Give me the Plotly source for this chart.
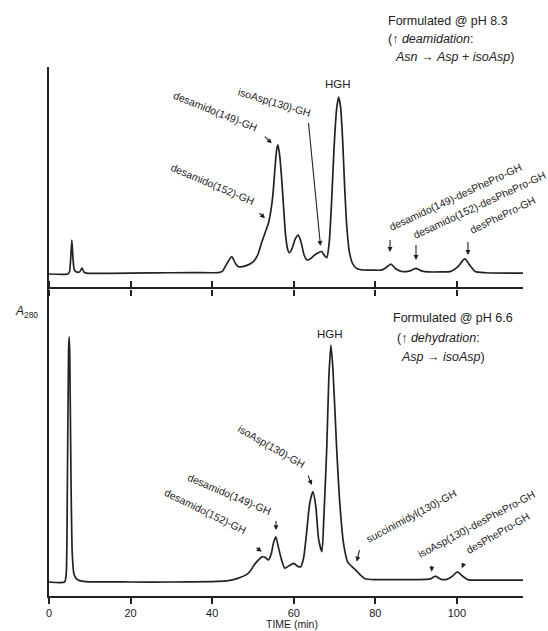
import plotly.graph_objects as go

# ---------------- data ----------------
# Top chromatogram: formulated at pH 8.3 (relative A280, HGH peak = 1)
top_time = [0, 4.6, 5.0, 5.3, 5.6, 5.9, 6.2, 6.7, 7.5, 8.1, 8.6, 9.5, 15, 25, 35, 41.5,
            42.5, 43.4, 44.8, 45.7, 46.5, 48.2, 50.1, 51.2, 52.1, 53.0, 53.8, 54.4,
            54.9, 55.4, 55.8, 56.1, 56.5, 57.0, 57.5, 58.0, 58.5, 58.9, 59.6, 60.4,
            61.1, 61.8, 62.5, 63.2, 64.0, 65.0, 66.0, 66.8, 67.5, 68.1, 68.7, 69.3,
            69.9, 70.5, 71.0, 71.5, 72.0, 72.5, 73.0, 73.6, 74.3, 75.2, 76.5, 79,
            81.5, 82.6, 83.8, 85.0, 86.5, 88.5, 90.0, 91.5, 93, 96, 98.5, 100.2,
            101.9, 103.3, 104.5, 107, 116.2]
top_abs = [0.0, 0.0, 0.01, 0.08, 0.192, 0.08, 0.025, 0.012, 0.012, 0.034, 0.01, 0.004,
           0.004, 0.006, 0.008, 0.008, 0.015, 0.05, 0.098, 0.06, 0.041, 0.046, 0.07,
           0.11, 0.175, 0.235, 0.288, 0.36, 0.45, 0.6, 0.7, 0.73, 0.68, 0.55, 0.38,
           0.22, 0.14, 0.12, 0.145, 0.2, 0.22, 0.18, 0.11, 0.08, 0.085, 0.105, 0.12,
           0.127, 0.105, 0.092, 0.18, 0.42, 0.72, 0.93, 1.0, 0.94, 0.75, 0.48, 0.27,
           0.13, 0.065, 0.035, 0.024, 0.022, 0.022, 0.035, 0.056, 0.03, 0.014, 0.018,
           0.032, 0.016, 0.012, 0.012, 0.015, 0.04, 0.085, 0.045, 0.014, 0.007, 0.005]

# Bottom chromatogram: formulated at pH 6.6 (relative A280, HGH peak = 1)
bot_time = [0, 3.8, 4.2, 4.5, 4.8, 4.95, 5.1, 5.4, 5.7, 6.1, 6.7, 7.5, 9, 20, 30, 40,
            43.5, 45.2, 47, 48.5, 49.5, 50.3, 51.3, 52.2, 53.0, 53.8, 54.5, 55.0,
            55.6, 56.2, 56.9, 57.8, 58.8, 60.0, 61.0, 61.7, 62.4, 63.1, 63.9, 64.7,
            65.4, 66.1, 66.9, 67.4, 68.1, 68.6, 69.1, 69.6, 70.5, 71.3, 72.2, 73.2,
            74.2, 75.2, 76.3, 77.5, 80, 85, 90, 93.5, 94.7, 96, 97.5, 99, 100.1,
            101.3, 102.8, 106, 116.2]
bot_abs = [0.0, 0.0, 0.03, 0.4, 0.98, 1.034, 0.95, 0.42, 0.12, 0.035, 0.014, 0.006,
           0.002, 0.0, 0.0, 0.002, 0.005, 0.01, 0.02, 0.032, 0.05, 0.072, 0.092, 0.106,
           0.104, 0.093, 0.12, 0.163, 0.191, 0.15, 0.1, 0.058, 0.068, 0.079, 0.066,
           0.064, 0.1, 0.2, 0.33, 0.381, 0.32, 0.18, 0.128, 0.28, 0.57, 0.86, 1.0,
           0.9, 0.57, 0.33, 0.163, 0.085, 0.066, 0.05, 0.03, 0.014, 0.01, 0.01, 0.01,
           0.013, 0.025, 0.012, 0.011, 0.026, 0.043, 0.026, 0.009, 0.008, 0.008]

tick_vals = [0, 20, 40, 60, 80, 100]
tick_text = ["0", "20", "40", "60", "80", "100"]

# ---------------- layout geometry ----------------
W, H = 548, 631
ML, MR, MT, MB = 49, 25, 67, 35
PW, PH = W - ML - MR, H - MT - MB
SPLIT = (596 - 289) / PH

def px(xp):
    return (xp - ML) / PW

def py(yp):
    return (H - MB - yp) / PH

INK = "#222222"
FONT = "Liberation Sans, Arial, sans-serif"

fig = go.Figure()
fig.add_trace(go.Scatter(x=top_time, y=top_abs, mode="lines", xaxis="x", yaxis="y",
                         line=dict(color=INK, width=1.7, shape="spline", smoothing=0.6),
                         showlegend=False, hoverinfo="skip"))
fig.add_trace(go.Scatter(x=bot_time, y=bot_abs, mode="lines", xaxis="x2", yaxis="y2",
                         line=dict(color=INK, width=1.7, shape="spline", smoothing=0.6),
                         showlegend=False, hoverinfo="skip"))

axis_common = dict(range=[0, 116.2], showgrid=False, zeroline=False,
                   linecolor=INK, linewidth=2, ticks="outside", ticklen=6, tickwidth=1.5,
                   tickcolor=INK, tickvals=tick_vals, ticktext=tick_text)

fig.update_layout(
    width=W, height=H,
    margin=dict(l=ML, r=MR, t=MT, b=MB),
    paper_bgcolor="white", plot_bgcolor="white",
    font=dict(family=FONT, color=INK, size=11),
    # top panel x axis: only downward ticks, the line comes from the mirrored bottom axis
    xaxis=dict(anchor="y", showticklabels=False, showline=False, **axis_common),
    xaxis2=dict(anchor="y2", matches="x", showticklabels=True, showline=True,
                mirror="ticks", tickfont=dict(size=11, color=INK), **axis_common),
    yaxis=dict(domain=[SPLIT, 1], range=[-15 / 177, 207 / 177], showgrid=False,
               zeroline=False, showline=True, linecolor=INK, linewidth=1.6,
               showticklabels=False, ticks=""),
    yaxis2=dict(domain=[0, SPLIT], range=[-14 / 237, 293 / 237], showgrid=False,
                zeroline=False, showline=True, linecolor=INK, linewidth=1.6,
                showticklabels=False, ticks=""),
)

ann = []

# rotated peak labels (text, x px, y px, angle, size)
labels = [
    ("desamido(149)-GH", 215, 110.5, 22, 10.5),
    ("isoAsp(130)-GH", 274, 101.7, 17, 10.5),
    ("desamido(152)-GH", 212.5, 184, 23, 10.5),
    ("desamido(149)-desPhePro-GH", 455, 197, -25, 10.5),
    ("desamido(152)-desPhePro-GH", 479, 205, -25, 10.5),
    ("desPhePro-GH", 502, 215, -26, 10.5),
    ("desamido(152)-GH", 205.3, 510.5, 26, 10.5),
    ("desamido(149)-GH", 229.5, 493.5, 23, 10.5),
    ("isoAsp(130)-GH", 271, 446, 30, 10.5),
    ("succinimidyl(130)-GH", 410.8, 515.8, -28, 10.5),
    ("isoAsp(130)-desPhePro-GH", 476, 524, -28, 10.5),
    ("desPhePro-GH", 497.5, 532.5, -30, 10.5),
]
for txt, x, y, ang, sz in labels:
    ann.append(dict(text=txt, x=px(x), y=py(y), xref="paper", yref="paper",
                    textangle=ang, showarrow=False, xanchor="center", yanchor="middle",
                    font=dict(size=sz, color=INK, family=FONT)))

for x, y in [(338, 84), (330, 334)]:
    ann.append(dict(text="HGH", x=px(x), y=py(y), xref="paper", yref="paper",
                    showarrow=False, xanchor="center", yanchor="middle",
                    font=dict(size=11.5, color=INK, family=FONT)))

# arrows: (xref, yref, tip time, tip value, ax, ay)
arrows = [
    ("x", "y", 54.6, 0.738, -8.4, -8.3),
    ("x", "y", 52.95, 0.315, -7, -6.6),
    ("x", "y", 66.56, 0.158, -12.2, -125),
    ("x", "y", 83.6, 0.124, 0, -14),
    ("x", "y", 89.97, 0.079, 0, -17),
    ("x", "y", 102.7, 0.107, 0, -15),
    ("x2", "y2", 52.15, 0.128, -6.7, -5),
    ("x2", "y2", 55.65, 0.219, 0, -11),
    ("x2", "y2", 64.4, 0.409, -4.4, -11.7),
    ("x2", "y2", 75.43, 0.086, 3.3, -13.4),
    ("x2", "y2", 93.82, 0.043, 0, -8),
    ("x2", "y2", 101.18, 0.058, 3.3, -7),
]
for xr, yr, t, v, ax, ay in arrows:
    ann.append(dict(text=" ", x=t, y=v, xref=xr, yref=yr, ax=ax, ay=ay,
                    showarrow=True, arrowhead=2, arrowsize=0.9, arrowwidth=1.1,
                    arrowcolor=INK, standoff=0, font=dict(size=1)))

# condition text blocks
blocks = [
    ("Formulated @ pH 8.3", 386, 21),
    ("(\u2191 <i>deamidation</i>:", 386, 39),
    ("<i>Asn</i> \u2192 <i>Asp</i> + <i>isoAsp</i>)", 393, 57),
    ("Formulated @ pH 6.6", 391, 317.5),
    ("(\u2191 <i>dehydration</i>:", 395, 338),
    ("<i>Asp</i> \u2192 <i>isoAsp</i>)", 399, 357),
]
for txt, x, y in blocks:
    ann.append(dict(text=txt, x=px(x), y=py(y), xref="paper", yref="paper",
                    showarrow=False, xanchor="left", yanchor="middle",
                    font=dict(size=12.5, color=INK, family=FONT)))

ann.append(dict(text="<i>A</i><sub>280</sub>", x=px(26), y=py(312), xref="paper",
                yref="paper", showarrow=False, xanchor="center", yanchor="middle",
                font=dict(size=12, color=INK, family=FONT)))
ann.append(dict(text="TIME (min)", x=px(292), y=py(624), xref="paper", yref="paper",
                showarrow=False, xanchor="center", yanchor="middle",
                font=dict(size=10.5, color=INK, family=FONT)))

fig.update_layout(annotations=ann)
# remove the browser's default 8px body margin so the figure sits at the page origin
fig.write_html("out.html",
               config={"displayModeBar": False},
               post_script="document.body.style.margin='0';document.body.style.padding='0';")
